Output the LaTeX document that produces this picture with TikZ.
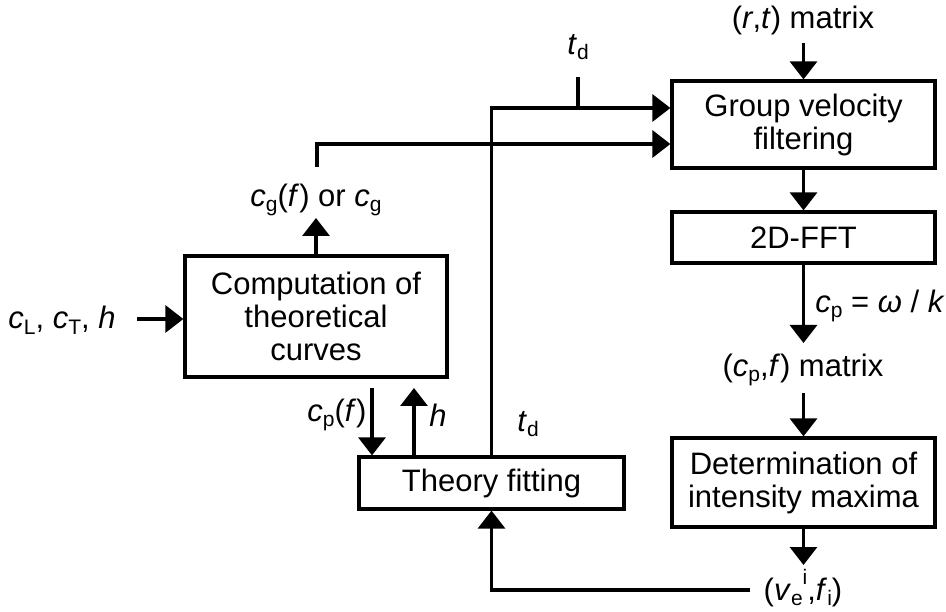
\documentclass[tikz,border=0pt]{standalone}
\usepackage{fontspec}
\setmainfont{Liberation Sans}
\usetikzlibrary{arrows.meta}
\newcommand{\lo}[1]{\raisebox{-0.18em}{\fontsize{21}{21}\selectfont #1}}
\newcommand{\hi}[1]{\raisebox{0.5em}{\fontsize{21}{21}\selectfont #1}}
\begin{document}
\begin{tikzpicture}[x=1pt,y=-1pt,line width=3.2pt,
  >={Triangle[width=27pt,length=18pt]},
  font=\fontsize{31}{33}\selectfont,
  box/.style={draw,line width=3.2pt,inner sep=0pt,align=center},
  lbl/.style={inner sep=3pt}]
\useasboundingbox (0,0) rectangle (946,612);
% boxes
\node[box,minimum width=263pt,minimum height=87pt] (gv) at (803.5,124.5) {Group velocity\\filtering};
\node[box,minimum width=263pt,minimum height=51pt] (fft) at (803.5,237.5) {2D-FFT};
\node[box,minimum width=263pt,minimum height=89pt] (det) at (803.5,482.5) {Determination of\\intensity maxima};
\node[box,minimum width=262pt,minimum height=121pt] (comp) at (316,316.5) {Computation of\\theoretical\\curves};
\node[box,minimum width=265pt,minimum height=52pt] (fit) at (491.5,483) {Theory fitting};
% labels
\node[lbl] (rt) at (803,20) {(\textit{r},\textit{t}) matrix};
\node[lbl] (td1) at (578,47) {\textit{t}\lo{d}};
\node[lbl] (cg) at (316,200) {\textit{c}\lo{g}(\textit{f}) or \textit{c}\lo{g}};
\node[lbl] (cl) at (62,320) {\textit{c}\lo{L}, \textit{c}\lo{T}, \textit{h}};
\node[lbl] (cpf) at (337,415) {\textit{c}\lo{p}(\textit{f})};
\node[lbl] (hl) at (438,415) {\textit{h}};
\node[lbl] (td2) at (528,424) {\textit{t}\lo{d}};
\node[lbl] (cpw) at (880,306) {\textit{c}\lo{p} = \textit{ω} / \textit{k}};
\node[lbl] (cpm) at (803,370) {(\textit{c}\lo{p},\textit{f}) matrix};
\node[lbl] (ve) at (803,588) {(\textit{v}\lo{e}\hi{i},\textit{f}\lo{i})};
% coordinates
\coordinate (rtA) at (803.5,43);
\coordinate (fftB) at (803.5,343);
\coordinate (cpmB) at (803.5,393);
\coordinate (veA) at (803.5,565);
\coordinate (veL) at (750,590);
\coordinate (tdA) at (578,77);
\coordinate (tdB) at (578,108);
\coordinate (cgA) at (317,167);
\coordinate (cgT) at (316,218);
\coordinate (clA) at (137,319);
\coordinate (dA) at (372,388);
\coordinate (uA) at (414,388);
% connectors
\draw[->] (rtA) -- (gv.north);
\draw[->] (gv.south) -- (fft.north);
\draw[->] (fft.south) -- (fftB);
\draw[->] (cpmB) -- (det.north);
\draw[->] (det.south) -- (veA);
\draw[->] (veL) -| (fit.south);
\draw[->] (fit.north) |- ([yshift=16.5pt]gv.west);
\draw (tdA) -- (tdB);
\draw[->] (cgA) |- ([yshift=-19.5pt]gv.west);
\draw[->] (comp.north) -- (cgT);
\draw[->] (clA) -- (comp.west |- clA);
\draw[->] (dA) -- (dA |- fit.north);
\draw[->] (uA |- fit.north) -- (uA);
\end{tikzpicture}
\end{document}
